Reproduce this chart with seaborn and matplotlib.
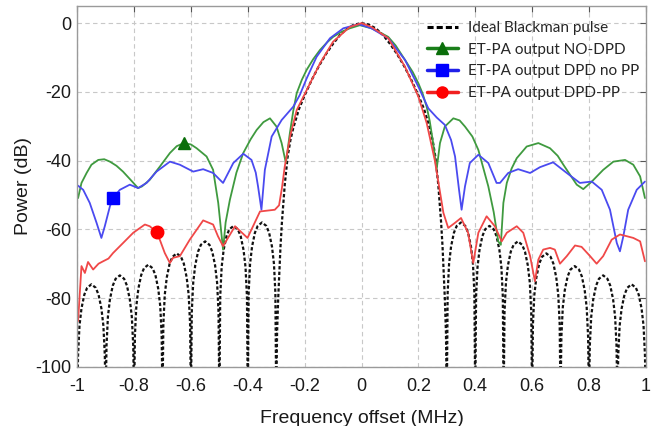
import numpy as np
import matplotlib
matplotlib.use('Agg')
import matplotlib.pyplot as plt
import seaborn as sns
from matplotlib.lines import Line2D

# ---------------------------------------------------------
# Data (frequency offset in MHz, power in dB)
# ---------------------------------------------------------
ideal_x = [
    -1.0, -0.997, -0.992, -0.985, -0.975, -0.965, -0.95, -0.935, -0.925, -0.915, -0.908, -0.903,
    -0.9, -0.897, -0.892, -0.885, -0.875, -0.865, -0.85, -0.835, -0.825, -0.815, -0.808, -0.803,
    -0.8, -0.797, -0.792, -0.785, -0.775, -0.765, -0.75, -0.735, -0.725, -0.715, -0.708, -0.703,
    -0.7, -0.697, -0.692, -0.685, -0.675, -0.665, -0.65, -0.635, -0.625, -0.615, -0.608, -0.603,
    -0.6, -0.597, -0.592, -0.585, -0.575, -0.565, -0.55, -0.535, -0.525, -0.515, -0.508, -0.503,
    -0.5, -0.497, -0.492, -0.485, -0.475, -0.465, -0.45, -0.435, -0.425, -0.415, -0.408, -0.403,
    -0.4, -0.397, -0.392, -0.385, -0.375, -0.365, -0.35, -0.335, -0.325, -0.315, -0.308, -0.303,
    -0.3, -0.297, -0.293, -0.285, -0.28, -0.27, -0.26, -0.25, -0.24, -0.22,
    -0.2, -0.175, -0.15, -0.125, -0.1, -0.075, -0.05, -0.025, 0.0,
    0.025, 0.05, 0.075, 0.1, 0.125, 0.15, 0.175, 0.2,
    0.22, 0.24, 0.25, 0.26, 0.27, 0.28, 0.285, 0.293, 0.297,
    0.3, 0.303, 0.308, 0.315, 0.325, 0.335, 0.35, 0.365, 0.375, 0.385, 0.392, 0.397,
    0.4, 0.403, 0.408, 0.415, 0.425, 0.435, 0.45, 0.465, 0.475, 0.485, 0.492, 0.497,
    0.5, 0.503, 0.508, 0.515, 0.525, 0.535, 0.55, 0.565, 0.575, 0.585, 0.592, 0.597,
    0.6, 0.603, 0.608, 0.615, 0.625, 0.635, 0.65, 0.665, 0.675, 0.685, 0.692, 0.697,
    0.7, 0.703, 0.708, 0.715, 0.725, 0.735, 0.75, 0.765, 0.775, 0.785, 0.792, 0.797,
    0.8, 0.803, 0.808, 0.815, 0.825, 0.835, 0.85, 0.865, 0.875, 0.885, 0.892, 0.897,
    0.9, 0.903, 0.908, 0.915, 0.925, 0.935, 0.95, 0.965, 0.975, 0.985, 0.992, 0.997, 1.0,
]
ideal_db = [
    -110, -96.5, -88, -83, -79, -77, -76, -77, -79, -83, -88, -96.5,
    -110, -93.9, -85.4, -80.4, -76.4, -74.4, -73.4, -74.4, -76.4, -80.4, -85.4, -93.9,
    -110, -90.8, -82.3, -77.3, -73.3, -71.3, -70.3, -71.3, -73.3, -77.3, -82.3, -90.8,
    -110, -87.5, -79, -74, -70, -68, -67, -68, -70, -74, -79, -87.5,
    -110, -84, -75.5, -70.5, -66.5, -64.5, -63.5, -64.5, -66.5, -70.5, -75.5, -84,
    -110, -79.5, -71, -66, -62, -60, -59, -60, -62, -66, -71, -79.5,
    -110, -78.5, -70, -65, -61, -59, -58, -59, -61, -65, -70, -78.5,
    -110, -90, -80, -65, -58, -47, -39, -34, -30.5, -25,
    -21, -16.5, -12.5, -9, -6, -3.4, -1.5, -0.4, 0.0,
    -0.4, -1.5, -3.4, -6, -9, -12.5, -16.5, -21,
    -25, -30.5, -34, -39, -47, -58, -65, -80, -90,
    -110, -78.5, -70, -65, -61, -59, -58, -59, -61, -65, -70, -78.5,
    -110, -79.5, -71, -66, -62, -60, -59, -60, -62, -66, -71, -79.5,
    -110, -84, -75.5, -70.5, -66.5, -64.5, -63.5, -64.5, -66.5, -70.5, -75.5, -84,
    -110, -87.5, -79, -74, -70, -68, -67, -68, -70, -74, -79, -87.5,
    -110, -91.2, -82.7, -77.7, -73.7, -71.7, -70.7, -71.7, -73.7, -77.7, -82.7, -91.2,
    -110, -93.9, -85.4, -80.4, -76.4, -74.4, -73.4, -74.4, -76.4, -80.4, -85.4, -93.9,
    -110, -96.5, -88, -83, -79, -77, -76, -77, -79, -83, -88, -96.5, -110,
]

nodpd_x = [
    -0.997, -0.985, -0.967, -0.95, -0.926, -0.905, -0.885, -0.862, -0.839,
    -0.81, -0.786, -0.772, -0.745, -0.709, -0.674, -0.65, -0.625, -0.600,
    -0.580, -0.545, -0.522, -0.504, -0.487, -0.478, -0.463, -0.44, -0.416,
    -0.39, -0.369, -0.345, -0.322, -0.299, -0.281, -0.266, -0.252, -0.24,
    -0.228, -0.21, -0.193, -0.17, -0.146, -0.12, -0.1, -0.07, -0.041, -0.006,
    0.035, 0.06, 0.094, 0.12, 0.153, 0.18, 0.2, 0.215, 0.229, 0.24, 0.252,
    0.264, 0.276, 0.293, 0.323, 0.345, 0.364, 0.39, 0.411, 0.446, 0.465,
    0.481, 0.49, 0.499, 0.511, 0.528, 0.546, 0.581, 0.622, 0.663, 0.69,
    0.71, 0.735, 0.757, 0.78, 0.81, 0.85, 0.886, 0.927, 0.956, 0.98, 0.997,
]
nodpd_db = [
    -50.9, -46.5, -43.6, -41.2, -39.8, -39.6, -40.3, -41.5, -43.2,
    -45.8, -48.0, -47.5, -45.6, -41.7, -37.8, -35.8, -34.9, -35.3,
    -36.4, -38.8, -42.7, -52.3, -65.9, -58.0, -51.4, -43.5, -37.8,
    -33.8, -31.1, -28.8, -27.7, -30.1, -34.9, -40.7, -32.0, -25.5,
    -20.4, -16.5, -13.6, -10.5, -7.8, -5.5, -4.0, -2.5, -1.5, -0.6,
    -1.5, -2.5, -4.0, -6.5, -10.7, -14.2, -17.5, -20.5, -24.3, -28.5, -34.9,
    -42.7, -34.9, -30.1, -27.7, -28.3, -30.1, -33.0, -36.9, -47.5, -55.0,
    -63.5, -64.5, -52.3, -46.5, -42.3, -39.3, -35.9, -34.9, -36.4, -38.6,
    -41.2, -44.3, -47.0, -48.3, -46.1, -42.7, -40.3, -39.8, -41.2, -44.6, -50.9,
]

dpd_x = [
    -0.997, -0.979, -0.956, -0.932, -0.915, -0.903, -0.885, -0.874, -0.85,
    -0.815, -0.786, -0.756, -0.721, -0.674, -0.639, -0.592, -0.557, -0.522,
    -0.498, -0.487, -0.451, -0.416, -0.387, -0.372, -0.364, -0.352, -0.340,
    -0.316, -0.281, -0.240, -0.217, -0.193, -0.158, -0.111, -0.064, -0.01,
    0.035, 0.094, 0.153, 0.2, 0.235, 0.265, 0.293, 0.315, 0.329, 0.343,
    0.352, 0.364, 0.381, 0.411, 0.446, 0.475, 0.487, 0.516, 0.551, 0.593,
    0.628, 0.674, 0.722, 0.768, 0.81, 0.845, 0.874, 0.898, 0.909, 0.921,
    0.938, 0.968, 0.997,
]
dpd_db = [
    -47.3, -48.5, -52.3, -58.1, -62.5, -59.1, -53.3, -50.9, -48.5,
    -47.0, -48.0, -46.5, -43.2, -40.3, -41.2, -43.2, -42.5, -43.6,
    -45.6, -46.5, -40.7, -38.0, -39.8, -43.5, -47.5, -54.3, -42.7,
    -33.0, -28.2, -24.3, -20.9, -16.1, -9.8, -4.4, -1.5, -0.3,
    -1.5, -4.4, -10.7, -18.5, -24.8, -27.5, -29.6, -34.0, -38.8, -48.5,
    -54.3, -47.5, -40.7, -38.3, -40.7, -46.5, -46.5, -43.6, -42.5, -43.6,
    -41.9, -40.5, -43.6, -46.5, -46.1, -48.5, -54.3, -64.0, -66.4, -62.0,
    -54.3, -48.5, -46.1,
]

dpdpp_x = [
    -0.997, -0.985, -0.973, -0.962, -0.944, -0.925, -0.909, -0.89, -0.874,
    -0.839, -0.803, -0.762, -0.745, -0.719, -0.692, -0.674, -0.663, -0.639,
    -0.604, -0.557, -0.522, -0.505, -0.487, -0.445, -0.401, -0.357, -0.305,
    -0.29, -0.28, -0.27, -0.25, -0.228, -0.193, -0.146, -0.1, -0.041, 0.0,
    0.035, 0.094, 0.153, 0.2, 0.229, 0.258, 0.288, 0.305, 0.329, 0.350,
    0.375, 0.393, 0.411, 0.44, 0.469, 0.493, 0.511, 0.546, 0.569, 0.593,
    0.610, 0.622, 0.639, 0.663, 0.68, 0.698, 0.722, 0.751, 0.774, 0.804,
    0.827, 0.85, 0.88, 0.909, 0.933, 0.956, 0.98, 0.997,
]
dpdpp_db = [
    -86.7, -70.7, -72.7, -69.5, -71.7, -70.0, -69.3, -68.5, -66.9,
    -64.0, -61.0, -58.6, -59.1, -60.9, -66.9, -69.8, -68.3, -67.8,
    -63.0, -57.4, -58.6, -62.0, -64.9, -59.1, -62.5, -54.8, -54.3,
    -53.0, -48.0, -41.7, -32.5, -25.3, -19.5, -11.7, -5.4, -1.1, 0.0,
    -1.1, -4.4, -12.7, -21.4, -29.0, -40.0, -55.2, -59.6, -58.1, -56.7,
    -61.0, -69.8, -61.0, -56.2, -59.1, -63.5, -61.0, -59.1, -61.0, -67.8,
    -75.1, -68.8, -65.9, -65.4, -65.9, -70.0, -67.8, -64.7, -65.1, -67.8,
    -70.0, -67.8, -63.0, -61.5, -62.0, -62.5, -63.5, -69.3,
]

# single marker on each measured trace
marker_x = [-0.625, -0.874, -0.719]
marker_db = [-34.9, -50.9, -60.9]

labels = ['Ideal Blackman pulse', 'ET-PA output NO-DPD',
          'ET-PA output DPD no PP', 'ET-PA output DPD-PP']
xticks = [-1, -0.8, -0.6, -0.4, -0.2, 0, 0.2, 0.4, 0.6, 0.8, 1]
xticklabels = ['-1', '-0.8', '-0.6', '-0.4', '-0.2', '0', '0.2', '0.4', '0.6', '0.8', '1']
yticks = [0, -20, -40, -60, -80, -100]

# ---------------------------------------------------------
# Plot
# ---------------------------------------------------------
sns.set_style('white')
plt.rcParams['font.family'] = ['Liberation Sans', 'DejaVu Sans']
plt.rcParams['axes.unicode_minus'] = False

green_line, green_mk = '#3f9a3f', '#0a6e0a'
blue_line, blue_mk = '#4a4af0', '#0000ff'
red_line, red_mk = '#f04848', '#ff0000'

fig = plt.figure(figsize=(6.6, 4.26), dpi=100)
ax = fig.add_axes([0.117, 0.139, 0.8615, 0.847])

ax.grid(True, color='#c8c8c8', linestyle=(0, (4, 3)), linewidth=0.8)
ax.set_axisbelow(True)

# ideal pulse first so the measured traces sit on top of it
sns.lineplot(x=ideal_x, y=ideal_db, ax=ax, color='#111111', linewidth=1.6,
             linestyle=(0, (1.5, 1.0)), sort=False, estimator=None)
sns.lineplot(x=nodpd_x, y=nodpd_db, ax=ax, color=green_line, linewidth=1.3,
             sort=False, estimator=None)
sns.lineplot(x=dpd_x, y=dpd_db, ax=ax, color=blue_line, linewidth=1.3,
             sort=False, estimator=None)
sns.lineplot(x=dpdpp_x, y=dpdpp_db, ax=ax, color=red_line, linewidth=1.3,
             sort=False, estimator=None)

ax.plot(marker_x[0], marker_db[0], marker='^', color=green_mk, markersize=9, linestyle='none')
ax.plot(marker_x[1], marker_db[1], marker='s', color=blue_mk, markersize=9, linestyle='none')
ax.plot(marker_x[2], marker_db[2], marker='o', color=red_mk, markersize=9, linestyle='none')

ax.set_xlim(-1, 1)
ax.set_ylim(-100, 5)
ax.set_xticks(xticks)
ax.set_xticklabels(xticklabels)
ax.set_yticks(yticks)
ax.tick_params(direction='in', length=4, width=0.8, color='#555555',
               top=True, right=True, labelsize=13, labelcolor='#1a1a1a')
ax.tick_params(axis='y', pad=4.5)
ax.tick_params(axis='x', pad=8)
for s in ax.spines.values():
    s.set_color('#9a9a9a')
    s.set_linewidth(1.0)

ax.set_xlabel('Frequency offset (MHz)', fontsize=14, color='#1a1a1a', labelpad=11)
ax.set_ylabel('Power (dB)', fontsize=14, color='#1a1a1a', labelpad=2)

handles = [
    Line2D([], [], color='black', linestyle=(0, (2, 1)), linewidth=2.2),
    Line2D([], [], color='#1a7f1a', linewidth=2.5, marker='^', markersize=8, markerfacecolor=green_mk, markeredgecolor=green_mk),
    Line2D([], [], color='#2020e8', linewidth=2.5, marker='s', markersize=8, markerfacecolor=blue_mk, markeredgecolor=blue_mk),
    Line2D([], [], color='#f02020', linewidth=2.5, marker='o', markersize=8, markerfacecolor=red_mk, markeredgecolor=red_mk),
]
ax.legend(handles, labels, loc='upper right', frameon=False,
          prop={'family': ['Lato', 'DejaVu Sans'], 'size': 11},
          handlelength=2.0, handletextpad=0.7, labelspacing=0.5,
          borderaxespad=0.0, bbox_to_anchor=(1.0, 0.975))

plt.savefig('out.png', dpi=100)
